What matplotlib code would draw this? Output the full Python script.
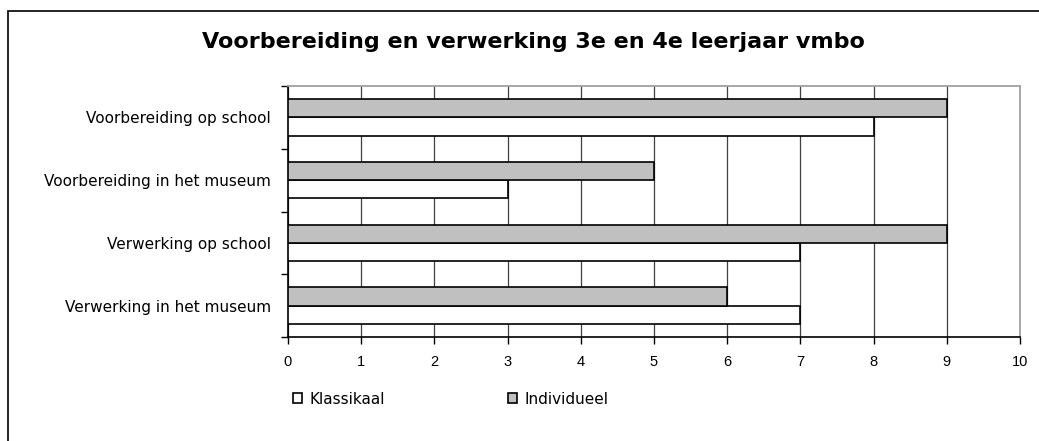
import numpy as np
import matplotlib.pyplot as plt
from matplotlib.patches import Rectangle

# data
categories = ["Voorbereiding op school", "Voorbereiding in het museum",
              "Verwerking op school", "Verwerking in het museum"]
klassikaal = [8, 3, 7, 7]
individueel = [9, 5, 9, 6]

plt.rcParams['font.family'] = ['Liberation Sans', 'DejaVu Sans']

fig = plt.figure(figsize=(10.39, 4.41), dpi=100)
ax = fig.add_axes([288 / 1039, 1 - 337 / 441, (1020 - 288) / 1039, (337 - 86) / 441])

y = np.arange(len(categories))
h = 0.29
ax.barh(y + h / 2, klassikaal, height=h, color="white", edgecolor="black",
        linewidth=1.2, label="Klassikaal", zorder=3)
ax.barh(y - h / 2, individueel, height=h, color="#c0c0c0", edgecolor="black",
        linewidth=1.2, label="Individueel", zorder=3)

ax.set_xlim(0, 10)
ax.set_ylim(len(categories) - 0.5, -0.5)
ax.set_xticks(range(0, 11))
ax.set_yticks(y)
ax.set_yticklabels(categories, fontsize=11, family="DejaVu Sans")
ax.set_yticks(np.arange(-0.5, len(categories)), minor=True)
ax.tick_params(axis="y", which="major", length=0, pad=12.5)
ax.tick_params(axis="y", which="minor", length=5, width=1, direction="out")
ax.tick_params(axis="x", length=5, width=1, direction="out", pad=8, labelsize=10.5)
ax.xaxis.grid(True, color="#404040", linewidth=0.9, zorder=0)
ax.set_axisbelow(True)
for s in ["top", "right"]:
    ax.spines[s].set_color("#a0a0a0")
    ax.spines[s].set_linewidth(1.3)
for s in ["left", "bottom"]:
    ax.spines[s].set_color("black")
    ax.spines[s].set_linewidth(1.2)

fig.text(533 / 1039, 1 - 42 / 441, "Voorbereiding en verwerking 3e en 4e leerjaar vmbo",
         ha="center", va="center", fontsize=16, fontweight="bold", family="DejaVu Sans")

handles, labels = ax.get_legend_handles_labels()
fig.legend(handles, labels, loc="center left",
           bbox_to_anchor=(287 / 1039, 1 - 399 / 441), ncol=2, frameon=False,
           prop={"family": "DejaVu Sans", "size": 11},
           handlelength=0.6, handleheight=0.6, handletextpad=0.5,
           columnspacing=8.0, borderaxespad=0)

# outer chart frame
fig.patches.append(Rectangle((8 / 1039, -0.1), 1.2, 1 - 11 / 441 + 0.1,
                             transform=fig.transFigure, fill=False,
                             edgecolor="black", linewidth=1.2))

fig.savefig("out.png", dpi=100)
